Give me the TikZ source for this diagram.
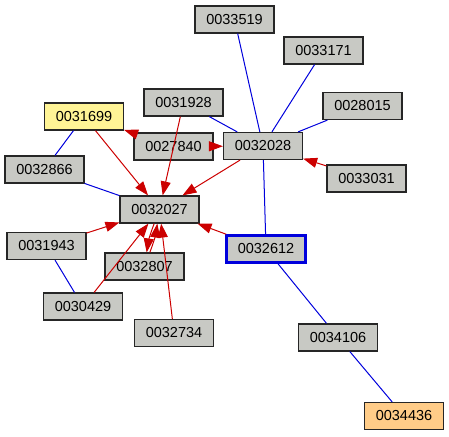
\documentclass[tikz,border=0pt]{standalone}
\usepackage{fontspec}
\setmainfont{Liberation Sans}
\usetikzlibrary{arrows.meta}
\definecolor{nodegray}{RGB}{200,201,196}
\definecolor{nodeyellow}{RGB}{255,244,150}
\definecolor{nodeorange}{RGB}{255,204,136}
\definecolor{edgered}{RGB}{204,0,0}
\definecolor{edgeblue}{RGB}{0,0,220}

\begin{document}
\begin{tikzpicture}[x=1pt, y=-1pt,
    box/.style={draw=black!85, line width=1.2pt, fill=nodegray, minimum width=79pt,
      minimum height=27pt, inner sep=0pt, font=\fontsize{14.5}{17}\selectfont},
    link/.style={edgeblue, line width=1pt},
    cite/.style={edgered, line width=1pt, -{Triangle[length=14pt, width=10pt]}}]
  \useasboundingbox (0,0) rectangle (449,436);
  % noeuds
  \node[box] (n33519) at (234.5,19.5) {0033519};
  \node[box] (n33171) at (323.5,50.5) {0033171};
  \node[box] (n28015) at (362.5,106) {0028015};
  \node[box] (n31928) at (183.5,102.5) {0031928};
  \node[box] (n32028) at (263,146) {0032028};
  \node[box] (n27840) at (173.5,146.5) {0027840};
  \node[box] (n33031) at (366.5,178.5) {0033031};
  \node[box, fill=nodeyellow] (n31699) at (84,116.5) {0031699};
  \node[box] (n32866) at (44.5,169.5) {0032866};
  \node[box] (n32027) at (159.5,209.5) {0032027};
  \node[box] (n31943) at (46.5,246) {0031943};
  \node[box] (n32807) at (144.5,266.5) {0032807};
  \node[box, draw=edgeblue, line width=2.5pt] (n32612) at (266,249) {0032612};
  \node[box] (n30429) at (83,306.5) {0030429};
  \node[box] (n32734) at (174,333) {0032734};
  \node[box] (n34106) at (338,337.5) {0034106};
  \node[box, fill=nodeorange] (n34436) at (404,416) {0034436};
  % liens
  \draw[link] (n33519) -- (n32028);
  \draw[link] (n33171) -- (n32028);
  \draw[link] (n28015) -- (n32028);
  \draw[link] (n31928) -- (n32028);
  \draw[link] (n32028) -- (n32612);
  \draw[link] (n31699) -- (n32866);
  \draw[link] (n32866) -- (n32027);
  \draw[link] (n31943) -- (n30429);
  \draw[link] (n32612) -- (n34106);
  \draw[link] (n34106) -- (n34436);
  % citations
  \draw[cite] (n31699) -- (n32027);
  \draw[cite] (n31928) -- (n32027);
  \draw[cite] (n32028) -- (n32027);
  \draw[cite] (n27840) -- (n31699);
  \draw[cite] (n27840) -- (n32028);
  \draw[cite] (n33031) -- (n32028);
  \draw[cite] (n31943) -- (n32027);
  \draw[cite] (n30429) -- (n32027);
  \draw[cite] (n32807) to[bend right=6] (n32027);
  \draw[cite] (n32027) to[bend right=6] (n32807);
  \draw[cite] (n32734) -- (n32027);
  \draw[cite] (n32612) -- (n32027);
\end{tikzpicture}
\end{document}
